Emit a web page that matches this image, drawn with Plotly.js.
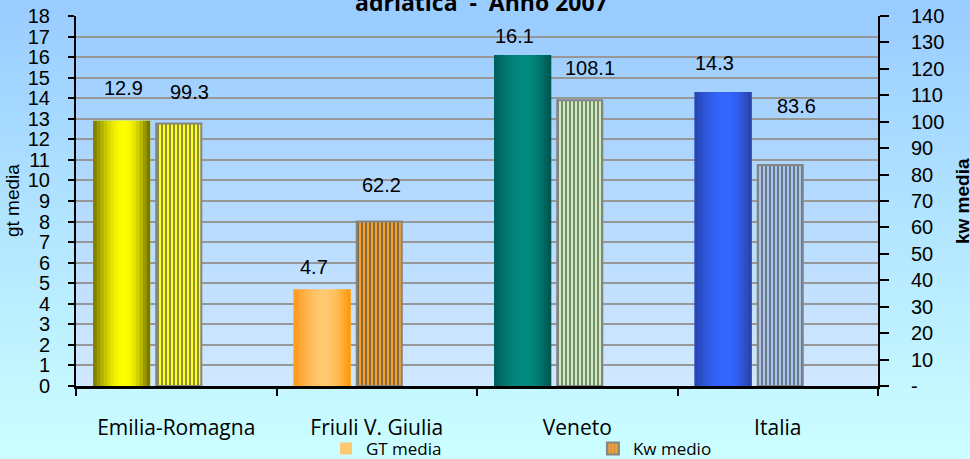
<!DOCTYPE html>
<html>
<head>
<meta charset="utf-8">
<script src="https://cdn.plot.ly/plotly-3.0.1.min.js"></script>
<style>
  html, body { margin: 0; padding: 0; }
  #chart {
    width: 970px; height: 459px;
    background:
      linear-gradient(#99ccff, #d0e8ff) 76px 16px / 802px 370px no-repeat,
      linear-gradient(#99ccff, #ccffff);
  }
</style>
</head>
<body>
<div id="chart"></div>
<script>
// ---- data ----
const categories = ['Emilia-Romagna', 'Friuli V. Giulia', 'Veneto', 'Italia'];
const gtMedia = [12.9, 4.7, 16.1, 14.3];
const kwMedio = [99.3, 62.2, 108.1, 83.6];
const seriesNames = ['GT media', 'Kw medio'];
const kwTickVals = [0, 10, 20, 30, 40, 50, 60, 70, 80, 90, 100, 110, 120, 130, 140];
const kwTickText = ['-', '10', '20', '30', '40', '50', '60', '70', '80', '90', '100', '110', '120', '130', '140'];
const titleText = 'adriatica  -  Anno 2007';
const yTitle = 'gt media';
const y2Title = 'kw media';

// ---- styles ----
// GT gradient stops per category: [edge-left, peak, edge-right]
const gtStops = [
  ['#767600', '#ffff00', '#6a6a00'],
  ['#ff961a', '#ffc870', '#ff9400'],
  ['#005c58', '#008a80', '#00524e'],
  ['#2844ac', '#3366ff', '#2840a4']
];
const kwBg = ['#ffff20', '#f2a232', '#cceebc', '#a8c6ec'];
const kwFg = ['#b4b48c', '#b48c5c', '#9cb894', '#8ca2c4'];
const GT_OFF = -0.415, GT_W = 0.285;
const KW_OFF = -0.10, KW_W = 0.225;
const gtLabelShift = [[-53, 33], [-63, 22], [-63, 19], [-63, 29]];
const kwLabelShift = [[13, 32], [5, 37], [13, 32], [19, 59]];

function hex2rgb(h) { return [1,3,5].map(i => parseInt(h.substr(i,2),16)); }
function mix(a, b, f) {
  const A = hex2rgb(a), B = hex2rgb(b);
  return 'rgb(' + A.map((v,i) => Math.round(v + (B[i]-v)*f)).join(',') + ')';
}

// legend order: Friuli first so that the legend swatches take its styling, as in the original
const order = [1, 0, 2, 3];
const traces = [];
// GT series base (also provides the legend entry); the gradient strips are drawn over it
traces.push({
  type: 'bar', x: order.map(i => categories[i]), y: order.map(i => gtMedia[i]), yaxis: 'y',
  name: seriesNames[0], offset: GT_OFF, width: GT_W,
  marker: { color: order.map(i => gtStops[i][1]), line: { width: 0 } },
  hoverinfo: 'skip', showlegend: true
});
const N = 16, PEAK = 0.55;
for (let s = 0; s < N; s++) {
  const t = (s + 0.5) / N;
  const colors = gtStops.map(st => {
    if (t < PEAK) { const f = Math.sin((t / PEAK) * Math.PI / 2); return mix(st[0], st[1], f); }
    const f = Math.sin(((1 - t) / (1 - PEAK)) * Math.PI / 2); return mix(st[2], st[1], f);
  });
  const w = GT_W / N;
  traces.push({
    type: 'bar', x: categories, y: gtMedia, yaxis: 'y',
    offset: GT_OFF + s * w, width: s < N - 1 ? w * 1.3 : w,
    marker: { color: colors, line: { width: 0 } },
    hoverinfo: 'skip', showlegend: false
  });
}
traces.push({
  type: 'bar', x: order.map(i => categories[i]), y: order.map(i => kwMedio[i]), yaxis: 'y2',
  name: seriesNames[1], offset: KW_OFF, width: KW_W,
  marker: {
    color: order.map(i => kwBg[i]),
    line: { color: '#858585', width: 2 },
    pattern: { shape: '|', fgcolor: order.map(i => kwFg[i]), fgopacity: 1,
      size: 4, solidity: 0.3, fillmode: 'overlay' }
  },
  hoverinfo: 'skip', showlegend: true
});

const annotations = [];
categories.forEach((c, i) => {
  annotations.push({
    x: c, y: gtMedia[i], xref: 'x', yref: 'y', text: gtMedia[i].toFixed(1),
    showarrow: false, xshift: gtLabelShift[i][0], yshift: gtLabelShift[i][1], yanchor: 'middle',
    font: { family: 'Liberation Sans, Arial', size: 20, color: '#000' }
  });
  annotations.push({
    x: c, y: kwMedio[i], xref: 'x', yref: 'y2', text: kwMedio[i].toFixed(1),
    showarrow: false, xshift: kwLabelShift[i][0], yshift: kwLabelShift[i][1], yanchor: 'middle',
    font: { family: 'Liberation Sans, Arial', size: 20, color: '#000' }
  });
});
annotations.push({
  text: '<b>' + titleText + '</b>', xref: 'paper', yref: 'paper', x: 0.505, y: 1,
  yanchor: 'bottom', yshift: -4, showarrow: false,
  font: { family: 'Open Sans', size: 23, color: '#000' }
});
annotations.push({
  text: yTitle, xref: 'paper', yref: 'paper', x: 0, y: 0.5, xshift: -64, textangle: -90,
  showarrow: false, yanchor: 'middle', xanchor: 'center',
  font: { family: 'Liberation Sans, Arial', size: 19, color: '#000' }
});
annotations.push({
  text: '<b>' + y2Title + '</b>', xref: 'paper', yref: 'paper', x: 1, y: 0.5, xshift: 84, textangle: -90,
  showarrow: false, yanchor: 'middle', xanchor: 'center',
  font: { family: 'Liberation Sans, Arial', size: 19, color: '#000' }
});

const tickFont = { family: 'Liberation Sans, Arial', size: 20, color: '#000' };
const layout = {
  width: 970, height: 459,
  margin: { l: 76, r: 92, t: 16, b: 73 },
  paper_bgcolor: 'rgba(0,0,0,0)', plot_bgcolor: 'rgba(0,0,0,0)',
  barmode: 'overlay', showlegend: true,
  legend: {
    orientation: 'h', xref: 'container', yref: 'container',
    x: 0.336, xanchor: 'left', y: 0.022, yanchor: 'middle',
    font: { family: 'Open Sans', size: 17, color: '#000' },
    bgcolor: 'rgba(0,0,0,0)', itemwidth: 30, entrywidth: 222, entrywidthmode: 'pixels',
    traceorder: 'normal'
  },
  xaxis: {
    type: 'category', categoryorder: 'array', categoryarray: categories,
    range: [-0.5, 3.5], showline: true, linecolor: '#000', linewidth: 3,
    ticks: 'outside', tickson: 'boundaries', ticklen: 7, tickwidth: 2, tickcolor: '#000',
    ticklabelstandoff: 21, showgrid: false, automargin: false, fixedrange: true,
    tickfont: { family: 'Open Sans', size: 21, color: '#000' }
  },
  yaxis: {
    range: [0, 18], dtick: 1, tick0: 0, showline: true, linecolor: '#000', linewidth: 2,
    ticks: 'outside', ticklen: 6, tickwidth: 2, tickcolor: '#000', ticklabelstandoff: 14,
    showgrid: true, gridcolor: '#979797', gridwidth: 2, zeroline: false,
    automargin: false, fixedrange: true, tickfont: tickFont
  },
  yaxis2: {
    overlaying: 'y', side: 'right', range: [0, 140],
    tickmode: 'array', tickvals: kwTickVals, ticktext: kwTickText,
    showline: true, linecolor: '#000', linewidth: 2,
    ticks: 'outside', ticklen: 9, tickwidth: 2, tickcolor: '#000', ticklabelstandoff: 18,
    showgrid: false, zeroline: false, automargin: false, fixedrange: true, tickfont: tickFont
  },
  annotations: annotations
};

Plotly.newPlot('chart', traces, layout, { displayModeBar: false, staticPlot: true });
</script>
</body>
</html>
